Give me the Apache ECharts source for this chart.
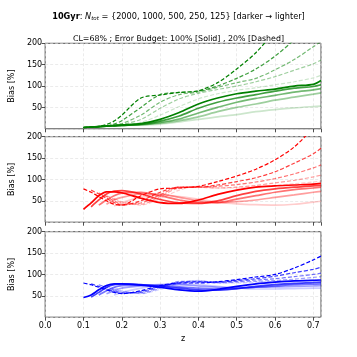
<!DOCTYPE html>
<html><head><meta charset="utf-8">
<script src="https://cdn.jsdelivr.net/npm/echarts@6/dist/echarts.min.js"></script>
<style>html,body{margin:0;padding:0;background:#fff}#c{width:357px;height:357px}</style>
</head><body><div id="c"></div>
<script>
// shared redshift grid
const zGrid = [0.10,0.12,0.14,0.16,0.18,0.20,0.25,0.30,0.35,0.40,0.45,0.50,0.55,0.60,0.65,0.70,0.72];
const nTot = [2000, 1000, 500, 250, 125];

// Green panel (solid = 100%, dashed = 20%)
const greenSolid = [
  [3,4,5,7,8,9,12,22,38,58,72,82,88,93,100,104,113],
  [3,4,5,6,7,8,11,18,30,48,62,72,80,88,95,99,103],
  [3,4,5,6,7,8,10,15,23,37,50,62,71,78,86,91,94],
  [3,4,5,6,7,8,9,13,19,28,40,50,58,67,74,81,84],
  [3,4,5,6,7,8,9,11,16,22,28,33,40,45,49,52,53]
];
const greenDashed = [
  [3,4,6,10,18,32,72,79,85,89,108,140,178,230,290,350,370],
  [3,4,5,7,11,19,50,80,85,88,100,118,140,170,208,250,270],
  [3,4,5,6,8,12,32,62,80,86,97,108,118,138,162,192,205],
  [3,4,5,6,7,10,22,48,70,83,92,100,110,122,137,152,161],
  [3,4,5,6,7,8,15,32,52,70,82,90,96,103,110,119,125]
];
// Red panel
const redSolid = [
  [30,45,62,71,71,69,56,46,44,52,65,75,82,85,87,89,91],
  [null,36,52,66,73,74,66,53,45,44,50,62,72,78,82,85,86],
  [null,null,40,52,62,68,70,62,52,46,46,54,62,70,76,80,82],
  [null,null,null,42,52,58,66,66,58,50,46,48,52,58,64,70,72],
  [null,null,null,null,38,46,58,63,60,54,47,43,41,40,42,47,49]
];
const redDashed = [
  [78,70,60,50,42,40,62,78,80,84,95,108,124,146,176,220,240],
  [null,75,66,56,46,40,50,70,82,82,87,95,104,118,138,160,173],
  [null,null,68,60,50,42,45,64,82,82,84,88,94,102,113,127,134],
  [null,null,null,62,54,46,42,60,80,82,80,82,86,92,98,106,110],
  [null,null,null,null,56,48,40,55,75,84,80,80,82,86,90,94,96]
];
// Blue panel
const blueSolid = [
  [46,52,64,74,78,78,75,70,64,61,65,72,78,82,85,86,87],
  [null,47,58,70,76,78,76,72,68,64,63,67,72,76,79,81,82],
  [null,null,52,62,70,74,75,74,71,68,66,67,70,73,76,77,78],
  [null,null,null,55,62,68,73,76,76,73,70,69,70,71,72,73,74],
  [null,null,null,null,52,58,68,75,78,76,72,68,66,66,67,68,68]
];
const blueDashed = [
  [80,76,70,64,58,55,62,74,80,80,83,88,94,100,115,134,143],
  [null,78,72,66,60,56,60,72,80,82,82,86,90,96,104,112,117],
  [null,null,76,70,63,57,58,70,82,84,82,84,87,90,95,100,103],
  [null,null,null,74,66,60,56,68,84,84,80,82,84,86,89,93,95],
  [null,null,null,null,70,62,55,65,80,86,80,80,82,84,85,87,88]
];
const xTicks = [0.0,0.1,0.2,0.3,0.4,0.5,0.6,0.7];
const yTicks = [50,100,150,200];

const alphas = [1, 0.75, 0.55, 0.38, 0.2];
const panels = [
  {rgb:'0,128,0', solid:greenSolid, dashed:greenDashed},
  {rgb:'255,0,0', solid:redSolid, dashed:redDashed},
  {rgb:'0,0,255', solid:blueSolid, dashed:blueDashed}
];
const tops = [43.3, 136.7, 231.7];
const FONT = 'DejaVu Sans';

const grids = [], xAxes = [], yAxes = [], series = [];
panels.forEach((p, i) => {
  grids.push({left:44, right:36, top:tops[i], height:85.5, show:true, borderColor:'#222', borderWidth:0.8, backgroundColor:'transparent'});
  const last = i === 2;
  xAxes.push({
    type:'value', gridIndex:i, min:0, max:0.72, interval:0.1,
    name: last ? 'z' : '', nameLocation:'middle', nameGap:18,
    nameTextStyle:{fontFamily:FONT, fontSize:8, color:'#000'},
    axisLine:{show:false},
    axisTick:{show:true, length:3.5, lineStyle:{color:'#222', width:0.8}},
    axisLabel:{show:last, fontFamily:FONT, fontSize:8, color:'#000', margin:5,
      showMaxLabel:false, formatter:v => v.toFixed(1)},
    splitLine:{show:true, lineStyle:{color:'#ddd', type:[3,2], width:0.6}}
  });
  yAxes.push({
    type:'value', gridIndex:i, min:0, max:200, interval:50,
    name:'Bias [%]', nameLocation:'middle', nameGap:20, nameRotate:90,
    nameTextStyle:{fontFamily:FONT, fontSize:8, color:'#000'},
    axisLine:{show:false},
    axisTick:{show:true, length:3.5, lineStyle:{color:'#222', width:0.8}},
    axisLabel:{fontFamily:FONT, fontSize:8, color:'#000', margin:3, showMinLabel:false},
    splitLine:{show:true, lineStyle:{color:'#ddd', type:[3,2], width:0.6}}
  });
  const mk = (vals, k, dashed) => ({
    type:'line', xAxisIndex:i, yAxisIndex:i, smooth:0.3, symbol:'none', clip:true,
    z: 10 - k,
    lineStyle:{color:'rgba(' + p.rgb + ',' + alphas[k] + ')', width: dashed ? 1.2 : 1.7, type: dashed ? [4,2] : 'solid'},
    data: zGrid.map((z, j) => [z, vals[j]])
  });
  p.solid.forEach((v, k) => series.push(mk(v, k, false)));
  p.dashed.forEach((v, k) => series.push(mk(v, k, true)));
});

const chart = echarts.init(document.getElementById('c'), null, {renderer:'canvas'});
chart.setOption({
  animation:false,
  backgroundColor:'#fff',
  title:[
    {text:'{b|10Gyr}: {i|N}{s|tot} = {' + nTot.join(', ') + '} [darker → lighter]',
     left:'center', top:6,
     textStyle:{fontFamily:FONT, fontSize:8.2, fontWeight:'normal', color:'#000',
       rich:{b:{fontFamily:FONT, fontSize:8.2, fontWeight:'bold', color:'#000'},
             i:{fontFamily:FONT, fontSize:8.2, fontStyle:'italic', color:'#000'},
             s:{fontFamily:FONT, fontSize:5.5, fontStyle:'italic', color:'#000', padding:[5,0,0,0]}}}},
    {text:'CL=68% ; Error Budget: 100% [Solid] , 20% [Dashed]', left:'center', top:30,
     textStyle:{fontFamily:FONT, fontSize:7.9, fontWeight:'normal', color:'#000'}}
  ],
  grid:grids, xAxis:xAxes, yAxis:yAxes, series:series
});
</script></body></html>
